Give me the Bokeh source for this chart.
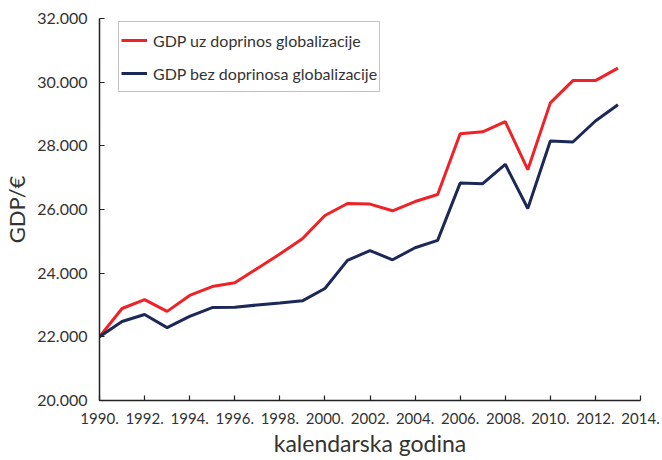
from bokeh.plotting import figure
from bokeh.models import FixedTicker, Legend, LegendItem, Range1d
from bokeh.embed import file_html
from bokeh.resources import INLINE

years = list(range(1990, 2014))
gdp_with = [22000, 22890, 23170, 22800, 23300, 23580, 23700, 24150, 24600, 25080,
            25810, 26190, 26170, 25960, 26250, 26470, 28380, 28440, 28760, 27250,
            29350, 30050, 30050, 30440]
gdp_without = [22000, 22480, 22700, 22290, 22640, 22920, 22930, 23000, 23060, 23130,
               23520, 24400, 24710, 24420, 24800, 25030, 26830, 26810, 27420, 26030,
               28150, 28120, 28780, 29290]
x_ticks = list(range(1990, 2015, 2))
x_tick_labels = {t: f"{t}." for t in x_ticks}
y_ticks = list(range(20000, 32001, 2000))
y_tick_labels = {t: f"{t // 1000}.000" for t in y_ticks}
label_with = "GDP uz doprinos globalizacije"
label_without = "GDP bez doprinosa globalizacije"
x_title = "kalendarska godina"
y_title = "GDP/€"

FONT = "Lato"
TXT = "#333333"

p = figure(width=660, height=460, output_backend="svg", toolbar_location=None,
           x_range=Range1d(1990, 2014), y_range=Range1d(20000, 32000),
           min_border_left=97, min_border_right=20, min_border_top=18, min_border_bottom=60)
p.outline_line_color = None
p.xgrid.grid_line_color = None
p.ygrid.grid_line_color = None

r1 = p.line(years, gdp_with, line_color="#ee2227", line_width=3)
r2 = p.line(years, gdp_without, line_color="#1c2858", line_width=3)

for ax in (p.xaxis[0], p.yaxis[0]):
    ax.axis_line_color = "#222222"
    ax.axis_line_width = 1.5
    ax.major_tick_line_color = "#222222"
    ax.major_tick_line_width = 1.2
    ax.minor_tick_line_color = None
    ax.major_label_text_font = FONT
    ax.major_label_text_color = TXT
    ax.axis_label_text_font = FONT
    ax.axis_label_text_font_style = "normal"
    ax.axis_label_text_color = TXT

p.xaxis.ticker = FixedTicker(ticks=x_ticks)
p.xaxis.major_label_overrides = x_tick_labels
p.xaxis.major_label_text_font_size = "15px"
p.xaxis.major_tick_in = 5
p.xaxis.major_tick_out = 0
p.xaxis.major_label_standoff = 12
p.xaxis.axis_label = x_title
p.xaxis.axis_label_text_font_size = "23px"
p.xaxis.axis_label_standoff = 2

p.yaxis.ticker = FixedTicker(ticks=y_ticks)
p.yaxis.major_label_overrides = y_tick_labels
p.yaxis.major_label_text_font_size = "16px"
p.yaxis.major_tick_in = 5
p.yaxis.major_tick_out = 0
p.yaxis.major_label_standoff = 12
p.yaxis.axis_label = y_title
p.yaxis.axis_label_text_font_size = "22px"
p.yaxis.axis_label_standoff = 4

legend = Legend(items=[LegendItem(label=label_with, renderers=[r1]),
                       LegendItem(label=label_without, renderers=[r2])],
                location=(19, 308))
legend.padding = 2
legend.spacing = 1
legend.glyph_height = 32
legend.label_height = 32
legend.glyph_width = 26
legend.label_standoff = 6
legend.margin = 0
legend.border_line_color = "#888888"
legend.border_line_width = 1.2
legend.label_text_font = FONT
legend.label_text_font_size = "16px"
legend.label_text_color = TXT
p.add_layout(legend)

open("out.html", "w").write(file_html(p, INLINE))
